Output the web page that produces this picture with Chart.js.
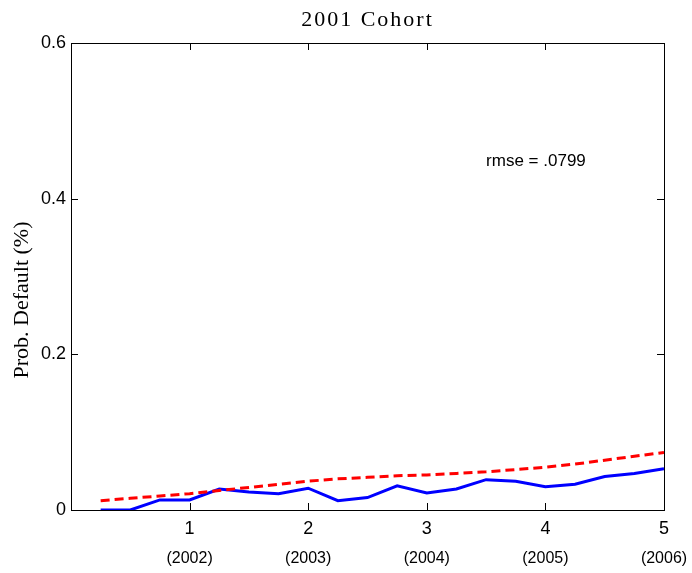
<!DOCTYPE html>
<html>
<head>
<meta charset="utf-8">
<script src="https://cdn.jsdelivr.net/npm/chart.js@4.4.0/dist/chart.umd.min.js"></script>
<style>
html, body { margin: 0; padding: 0; background: #fff; }
#wrap { width: 692px; height: 573px; }
</style>
</head>
<body>
<div id="wrap"><canvas id="c"></canvas></div>
<script>
// data
var years = [0.25, 0.5, 0.75, 1, 1.25, 1.5, 1.75, 2, 2.25, 2.5, 2.75, 3, 3.25, 3.5, 3.75, 4, 4.25, 4.5, 4.75, 5];
var actual = [0, 0, 0.013, 0.013, 0.027, 0.023, 0.021, 0.028, 0.012, 0.016, 0.031, 0.022, 0.027, 0.039, 0.037, 0.030, 0.033, 0.043, 0.047, 0.053];
var predicted = [0.012, 0.015, 0.018, 0.021, 0.025, 0.029, 0.033, 0.037, 0.040, 0.042, 0.044, 0.045, 0.047, 0.049, 0.052, 0.055, 0.059, 0.064, 0.069, 0.074];
var xTicks = [1, 2, 3, 4, 5];
var yearLabels = ['(2002)', '(2003)', '(2004)', '(2005)', '(2006)'];
var yTicks = [0, 0.2, 0.4, 0.6];
var chartTitle = '2001 Cohort';
var yTitle = 'Prob. Default (%)';
var rmseText = 'rmse = .0799';

function pts(vals) {
	return years.map(function (x, i) { return { x: x, y: vals[i] }; });
}

var boxPlugin = {
	id: 'box',
	afterDraw: function (chart) {
		var ctx = chart.ctx;
		var a = chart.chartArea;
		var xs = chart.scales.x, ys = chart.scales.y;
		ctx.save();
		ctx.strokeStyle = '#000';
		ctx.lineWidth = 1;
		ctx.beginPath();
		xTicks.forEach(function (v) {
			var px = Math.round(xs.getPixelForValue(v)) + 0.5;
			ctx.moveTo(px, a.bottom); ctx.lineTo(px, a.bottom - 7);
			ctx.moveTo(px, a.top); ctx.lineTo(px, a.top + 7);
		});
		yTicks.forEach(function (v) {
			var py = Math.round(ys.getPixelForValue(v)) + 0.5;
			ctx.moveTo(a.left, py); ctx.lineTo(a.left + 7, py);
			ctx.moveTo(a.right, py); ctx.lineTo(a.right - 7, py);
		});
		ctx.stroke();
		ctx.strokeRect(Math.round(a.left) + 0.5, Math.round(a.top) + 0.5, Math.round(a.right - a.left), Math.round(a.bottom - a.top));

		ctx.fillStyle = '#000';
		ctx.textAlign = 'center';
		ctx.textBaseline = 'middle';
		ctx.font = '16px "Liberation Sans"';
		xTicks.forEach(function (v, i) {
			ctx.fillText(yearLabels[i], xs.getPixelForValue(v), 559);
		});

		ctx.font = '17px "Liberation Sans"';
		ctx.textAlign = 'left';
		ctx.fillText(rmseText, xs.getPixelForValue(3.5), ys.getPixelForValue(0.448));

		ctx.font = '22px "Liberation Serif"';
		ctx.textAlign = 'center';
		ctx.letterSpacing = '2px';
		ctx.fillText(chartTitle, (a.left + a.right) / 2, 20);
		ctx.letterSpacing = '0px';

		ctx.translate(22, 300);
		ctx.rotate(-Math.PI / 2);
		ctx.fillText(yTitle, 0, 0);
		ctx.restore();
	}
};

new Chart(document.getElementById('c'), {
	type: 'line',
	data: {
		datasets: [{
			label: 'model',
			data: pts(predicted),
			borderColor: '#ff0000',
			borderWidth: 3,
			borderDash: [9, 5],
			pointRadius: 0,
			tension: 0
		}, {
			label: 'actual',
			data: pts(actual),
			borderColor: '#0000ff',
			borderWidth: 3,
			pointRadius: 0,
			tension: 0
		}]
	},
	options: {
		responsive: true,
		maintainAspectRatio: false,
		animation: false,
		layout: { padding: { top: 43, left: 0, right: 0, bottom: 0 } },
		plugins: { legend: { display: false }, tooltip: { enabled: false } },
		scales: {
			x: {
				type: 'linear', position: 'bottom', min: 0, max: 5,
				grid: { display: false, drawTicks: false },
				border: { display: false },
				ticks: {
					stepSize: 1, padding: 8, color: '#000',
					font: { family: 'Liberation Sans', size: 18 },
					maxRotation: 0,
					callback: function (v) { return v === 0 ? '' : String(v); }
				},
				afterFit: function (s) { s.height = 63; }
			},
			y: {
				min: 0, max: 0.6,
				grid: { display: false, drawTicks: false },
				border: { display: false },
				ticks: {
					stepSize: 0.2, padding: 5, color: '#000',
					font: { family: 'Liberation Sans', size: 18 },
					callback: function (v) { return v === 0 ? '0' : v.toFixed(1); }
				},
				afterFit: function (s) { s.width = 71; }
			},
			y2: {
				position: 'right', min: 0, max: 0.6,
				grid: { display: false, drawTicks: false },
				border: { display: false },
				ticks: { display: false },
				afterFit: function (s) { s.width = 28; }
			}
		}
	},
	plugins: [boxPlugin]
});
</script>
</body>
</html>
